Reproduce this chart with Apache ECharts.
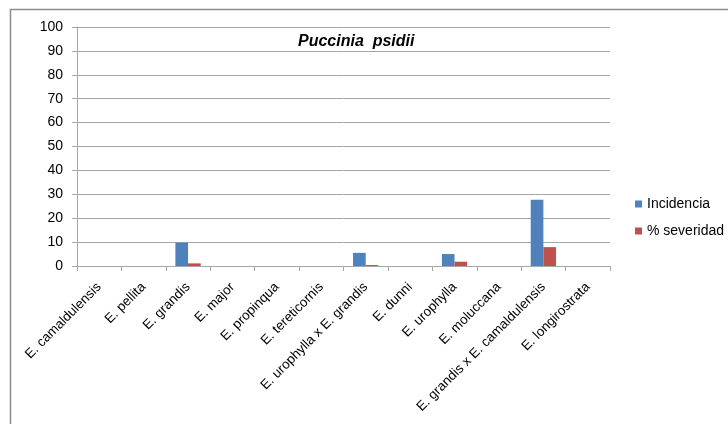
<!DOCTYPE html>
<html>
<head>
<meta charset="utf-8">
<script src="https://cdn.jsdelivr.net/npm/echarts@6/dist/echarts.min.js"></script>
<style>
  html, body { margin: 0; padding: 0; background: #fff; }
  #chart { width: 728px; height: 424px; }
</style>
</head>
<body>
<div id="chart"></div>
<script>
// Eucalyptus species evaluated for Puccinia psidii
const species = [
  'E. camaldulensis', 'E. pellita', 'E. grandis', 'E. major', 'E. propinqua',
  'E. tereticornis', 'E. urophylla x E. grandis', 'E. dunni', 'E. urophylla',
  'E. moluccana', 'E. grandis x E. camaldulensis', 'E. longirostrata'
];
// Incidence (%) per species
const incidencia = [0, 0, 9.8, 0, 0, 0, 5.5, 0, 5, 0, 27.7, 0];
// Severity (%) per species
const severidad = [0, 0, 1.1, 0, 0, 0, 0.4, 0, 1.8, 0, 7.9, 0];
const yTicks = { min: 0, max: 100, interval: 10 };

const FONT = '"Liberation Sans", Arial, sans-serif';
const chart = echarts.init(document.getElementById('chart'), null, { renderer: 'canvas' });

chart.setOption({
  animation: false,
  backgroundColor: '#ffffff',
  textStyle: { fontFamily: FONT },
  graphic: [{
    type: 'rect',
    shape: { x: 10.5, y: 9.5, width: 800, height: 500 },
    style: { fill: 'none', stroke: '#8c8c8c', lineWidth: 1.5 },
    silent: true
  }],
  title: {
    text: 'Puccinia  psidii',
    left: 298,
    top: 34,
    padding: 0,
    textStyle: { fontFamily: FONT, fontSize: 16, fontWeight: 'bold', fontStyle: 'italic', color: '#000' }
  },
  legend: {
    orient: 'vertical',
    left: 635,
    top: 197,
    padding: 0,
    itemWidth: 7,
    itemHeight: 7,
    itemGap: 13,
    icon: 'rect',
    textStyle: { fontFamily: FONT, fontSize: 14, color: '#000' },
    data: ['Incidencia', '% severidad']
  },
  grid: { left: 77, right: 118, top: 27, bottom: 158, containLabel: false },
  xAxis: {
    type: 'category',
    data: species,
    axisLine: { show: true, lineStyle: { color: '#a6a6a6', width: 1 } },
    axisTick: { show: true, alignWithLabel: false, length: 5, lineStyle: { color: '#a6a6a6' } },
    axisLabel: {
      interval: 0,
      rotate: 45,
      margin: 19,
      fontFamily: FONT,
      fontSize: 13.4,
      color: '#000'
    }
  },
  yAxis: {
    type: 'value',
    min: yTicks.min,
    max: yTicks.max,
    interval: yTicks.interval,
    axisLine: { show: true, lineStyle: { color: '#a6a6a6' } },
    axisTick: { show: true, length: 5, inside: false, lineStyle: { color: '#a6a6a6' } },
    splitLine: { show: true, lineStyle: { color: '#a6a6a6', width: 1 } },
    axisLabel: { fontFamily: FONT, fontSize: 14, color: '#000', margin: 14 }
  },
  series: [
    {
      name: 'Incidencia',
      type: 'bar',
      data: incidencia,
      barGap: '0%',
      barCategoryGap: '43%',
      itemStyle: { color: '#4f81bd' }
    },
    {
      name: '% severidad',
      type: 'bar',
      data: severidad,
      itemStyle: { color: '#c0504d' }
    }
  ]
});
</script>
</body>
</html>
